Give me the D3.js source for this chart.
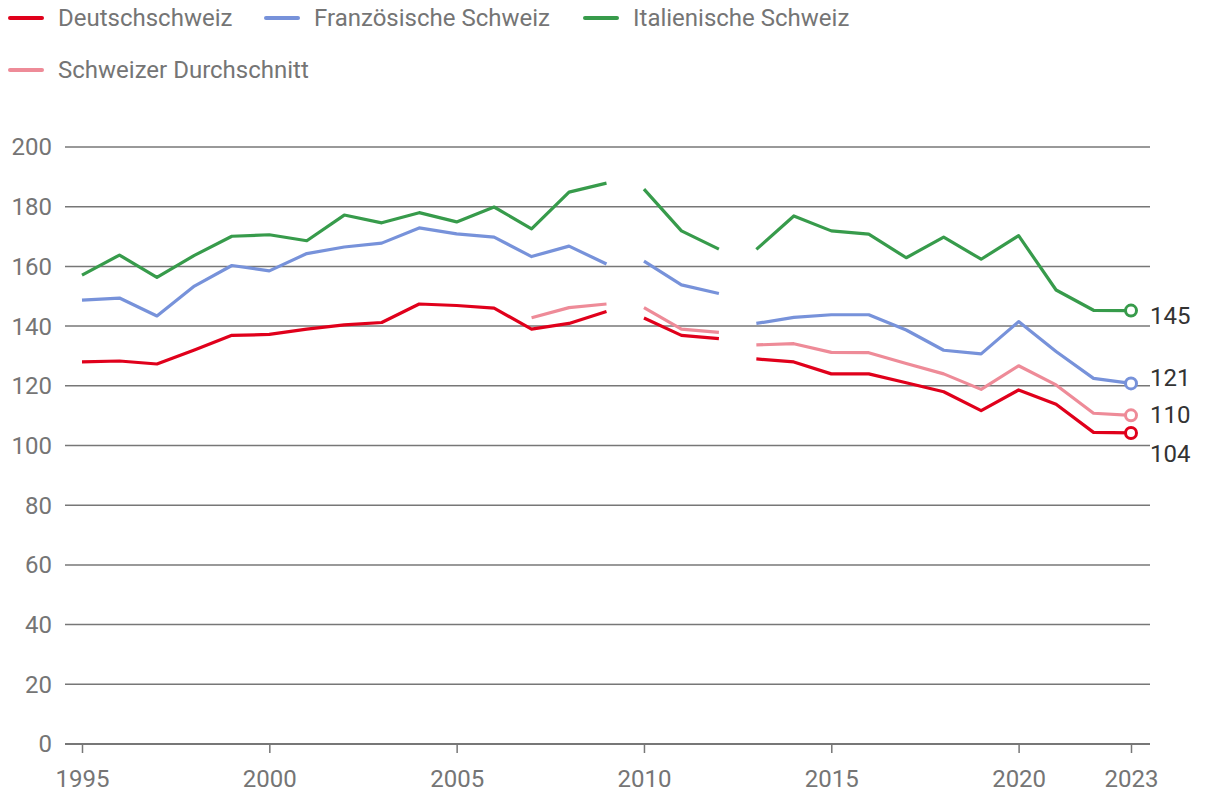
<!DOCTYPE html>
<html>
<head>
<meta charset="utf-8">
<script src="https://cdn.jsdelivr.net/npm/d3@7"></script>
<style>
  body { margin: 0; background: #fff; }
  text { font-family: Roboto, "Noto Sans", sans-serif; }
</style>
</head>
<body>
<script>
var years = d3.range(1995, 2024);
// the lines are broken after these years
var breaksAfter = [2009, 2012];

var deutsch = [128.0, 128.3, 127.3, 132.0, 136.9, 137.2, 139.0, 140.4, 141.2, 147.4,
               146.9, 146.0, 139.0, 140.9, 144.9, 142.7, 136.9, 135.8, 129.0, 128.0,
               124.0, 124.0, 121.0, 118.0, 111.7, 118.6, 113.8, 104.4, 104.2];
var franz = [148.7, 149.4, 143.4, 153.4, 160.3, 158.5, 164.3, 166.5, 167.8, 172.9,
             170.9, 169.8, 163.3, 166.8, 160.8, 161.8, 153.8, 150.9, 140.9, 142.9,
             143.8, 143.8, 138.7, 131.9, 130.7, 141.5, 131.5, 122.5, 120.8];
var ital = [157.1, 163.8, 156.3, 163.7, 170.1, 170.6, 168.6, 177.2, 174.6, 178.0,
            174.9, 179.9, 172.6, 184.9, 187.9, 185.9, 171.9, 165.8, 165.7, 176.9,
            171.9, 170.8, 162.9, 169.8, 162.4, 170.3, 152.1, 145.3, 145.2];
var schnitt = [null, null, null, null, null, null, null, null, null, null,
               null, null, 142.8, 146.2, 147.4, 146.2, 139.0, 137.9, 133.7, 134.1,
               131.2, 131.1, 127.5, 124.0, 118.8, 126.7, 120.3, 110.8, 110.1];

var seriesNames = ["Deutschschweiz", "Französische Schweiz", "Italienische Schweiz", "Schweizer Durchschnitt"];
var seriesColors = ["#e0001b", "#7792da", "#379b4b", "#ee8b98"];
var seriesValues = [deutsch, franz, ital, schnitt];
var endLabels = ["104", "121", "145", "110"];
var endLabelY = [454, 378, 316, 415];

var yTicks = d3.range(0, 201, 20);
var xTicks = [1995, 2000, 2005, 2010, 2015, 2020, 2023];

var width = 1220, height = 804;
var svg = d3.select("body").append("svg")
    .attr("width", width)
    .attr("height", height);

var x = d3.scaleLinear().domain([1995, 2023]).range([82, 1131]);
var y = d3.scaleLinear().domain([0, 200]).range([744, 147]);
var gridLeft = 65, gridRight = 1150;

// grid lines + y labels
var yAxis = svg.append("g");
yAxis.selectAll("line").data(yTicks).enter().append("line")
    .attr("x1", gridLeft).attr("x2", gridRight)
    .attr("y1", function(d) { return y(d); })
    .attr("y2", function(d) { return y(d); })
    .attr("stroke", "#777")
    .attr("stroke-width", function(d) { return d === 0 ? 2 : 1.5; });
yAxis.selectAll("text").data(yTicks).enter().append("text")
    .attr("x", 52)
    .attr("y", function(d) { return y(d); })
    .attr("dy", "0.35em")
    .attr("text-anchor", "end")
    .attr("font-size", 24)
    .attr("fill", "#757575")
    .text(function(d) { return d; });

// x axis
var xAxis = svg.append("g")
    .attr("transform", "translate(0," + y(0) + ")")
    .call(d3.axisBottom(x).tickValues(xTicks).tickFormat(d3.format("d")).tickSize(9).tickPadding(17));
xAxis.select(".domain").remove();
xAxis.selectAll(".tick line").attr("stroke", "#777").attr("stroke-width", 1.5);
xAxis.selectAll(".tick text")
    .attr("font-size", 24)
    .attr("font-family", "Roboto, sans-serif")
    .attr("fill", "#757575");

// lines
var line = d3.line()
    .defined(function(d) { return d.v !== null; })
    .x(function(d) { return x(d.year); })
    .y(function(d) { return y(d.v); });

seriesValues.forEach(function(vals, i) {
  var pts = years.map(function(yr, j) { return { year: yr, v: vals[j] }; });
  var segments = [];
  var cur = [];
  pts.forEach(function(p) {
    cur.push(p);
    if (breaksAfter.indexOf(p.year) >= 0) { segments.push(cur); cur = []; }
  });
  segments.push(cur);
  segments.forEach(function(seg) {
    svg.append("path")
      .datum(seg)
      .attr("fill", "none")
      .attr("stroke", seriesColors[i])
      .attr("stroke-width", 3.2)
      .attr("stroke-linejoin", "round")
      .attr("d", line);
  });
});

// end markers and labels
var drawOrder = [3, 1, 2, 0];
drawOrder.forEach(function(i) {
  var last = seriesValues[i][seriesValues[i].length - 1];
  svg.append("circle")
    .attr("cx", x(2023))
    .attr("cy", y(last))
    .attr("r", 5.5)
    .attr("fill", "#fff")
    .attr("stroke", seriesColors[i])
    .attr("stroke-width", 3);
  svg.append("text")
    .attr("x", 1150)
    .attr("y", endLabelY[i])
    .attr("dy", "0.35em")
    .attr("font-size", 24)
    .attr("fill", "#333")
    .text(endLabels[i]);
});

// legend
var legendPos = [[10, 18], [266, 18], [585, 18], [10, 70]];
seriesNames.forEach(function(name, i) {
  var g = svg.append("g").attr("transform", "translate(" + legendPos[i][0] + "," + legendPos[i][1] + ")");
  g.append("line")
    .attr("x1", 0).attr("x2", 32)
    .attr("y1", 0).attr("y2", 0)
    .attr("stroke", seriesColors[i])
    .attr("stroke-width", 4)
    .attr("stroke-linecap", "round");
  g.append("text")
    .attr("x", 48)
    .attr("y", 0)
    .attr("dy", "0.35em")
    .attr("font-size", 24)
    .attr("fill", "#757575")
    .text(name);
});
</script>
</body>
</html>
